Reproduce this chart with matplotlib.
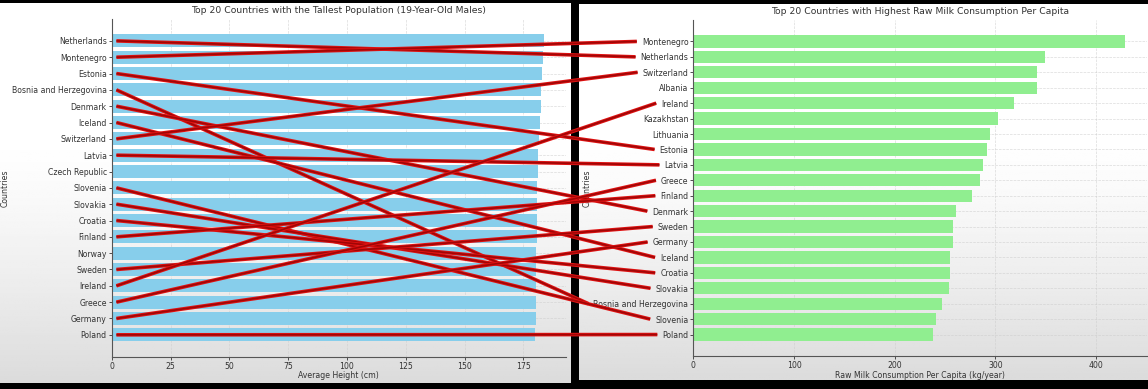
import numpy as np
import matplotlib
matplotlib.use("Agg")
import matplotlib.pyplot as plt
from matplotlib.lines import Line2D
import matplotlib.patheffects as pe

# Tallest population (19-year-old males), cm
height_countries = ["Netherlands", "Montenegro", "Estonia", "Bosnia and Herzegovina",
                    "Denmark", "Iceland", "Switzerland", "Latvia", "Czech Republic",
                    "Slovenia", "Slovakia", "Croatia", "Finland", "Norway", "Sweden",
                    "Ireland", "Greece", "Germany", "Poland"]
heights = [183.8, 183.3, 182.8, 182.5, 182.4, 182.0, 181.6, 181.3, 181.2, 181.0,
           181.0, 180.9, 180.6, 180.5, 180.4, 180.3, 180.2, 180.2, 180.0]

# Raw milk consumption per capita, kg/year
milk_countries = ["Montenegro", "Netherlands", "Switzerland", "Albania", "Ireland",
                  "Kazakhstan", "Lithuania", "Estonia", "Latvia", "Greece", "Finland",
                  "Denmark", "Sweden", "Germany", "Iceland", "Croatia", "Slovakia",
                  "Bosnia and Herzegovina", "Slovenia", "Poland"]
milk = [429, 349, 341, 341, 318, 303, 295, 292, 288, 285, 277, 261, 258, 258,
        255, 255, 254, 247, 241, 238]

W, H = 1148, 389
fig = plt.figure(figsize=(W / 100, H / 100), dpi=100, facecolor="black")


def panel(x0, y0, x1, y1):
    # screenshot panel with a soft grey fade towards the bottom
    bg = fig.add_axes([x0 / W, 1 - y1 / H, (x1 - x0) / W, (y1 - y0) / H], zorder=-5)
    t = np.linspace(0, 1, 200)
    col = 1 - 0.14 * np.clip((t - 0.35) / 0.65, 0, 1) ** 1.3
    img = np.repeat(col[:, None], 10, axis=1)
    bg.imshow(img, cmap="gray", vmin=0, vmax=1, aspect="auto", extent=[0, 1, 1, 0])
    bg.set_axis_off()


panel(0, 3, 571, 383)
panel(579, 4, W, 380)

txt = "#333333"
fs = 5.6


def style(ax):
    ax.set_facecolor("none")
    for s in ["top", "right"]:
        ax.spines[s].set_visible(False)
    for s in ["left", "bottom"]:
        ax.spines[s].set_color("#555555")
        ax.spines[s].set_linewidth(0.8)
    ax.grid(True, linestyle="--", color="#cccccc", linewidth=0.5, alpha=0.7)
    ax.set_axisbelow(True)
    ax.tick_params(labelsize=fs, colors=txt, length=2, width=0.6, pad=1.5)
    ax.invert_yaxis()


ax1 = fig.add_axes([111.7 / W, 1 - 356.7 / H, 454 / W, (356.7 - 19) / H])
ax1.barh(height_countries, heights, color="#87CEEB")
style(ax1)
ax1.set_title("Top 20 Countries with the Tallest Population (19-Year-Old Males)",
              fontsize=6.7, color=txt, pad=4)
ax1.set_xlabel("Average Height (cm)", fontsize=fs, color=txt, labelpad=0.5)
ax1.set_ylabel("Countries", fontsize=fs, color=txt)
ax1.yaxis.set_label_coords(-0.225, 0.5)
ax1.set_xticks([0, 25, 50, 75, 100, 125, 150, 175])

ax2 = fig.add_axes([693.3 / W, 1 - 356 / H, (1147 - 693.3) / W, (356 - 20) / H])
ax2.barh(milk_countries, milk, color="#90EE90")
style(ax2)
ax2.set_title("Top 20 Countries with Highest Raw Milk Consumption Per Capita",
              fontsize=6.7, color=txt, pad=4)
ax2.set_xlabel("Raw Milk Consumption Per Capita (kg/year)", fontsize=fs, color=txt, labelpad=0.5)
ax2.set_ylabel("Countries", fontsize=fs, color=txt)
ax2.yaxis.set_label_coords(-0.225, 0.5)
ax2.set_xticks([0, 100, 200, 300, 400])

# red connectors drawn over the screenshot: left label -> same country on the right
fig.canvas.draw()
renderer = fig.canvas.get_renderer()
inv = fig.transFigure.inverted()
right_labels = {lab.get_text(): lab for lab in ax2.get_yticklabels()}
for i, name in enumerate(height_countries):
    if name not in milk_countries:
        continue
    j = milk_countries.index(name)
    p0 = ax1.transData.transform((2, i))
    bb = right_labels[name].get_window_extent(renderer)
    p1 = (bb.x0 - 5, ax2.transData.transform((0, j))[1])
    (fx0, fy0), (fx1, fy1) = inv.transform([p0, p1])
    ln = Line2D([fx0, fx1], [fy0, fy1], transform=fig.transFigure, color="#a00606",
                linewidth=1.2, zorder=20, solid_capstyle="butt",
                path_effects=[pe.Stroke(linewidth=2.6, foreground="#e01212"), pe.Normal()])
    fig.add_artist(ln)

fig.savefig("out.png", dpi=100, facecolor=fig.get_facecolor())
